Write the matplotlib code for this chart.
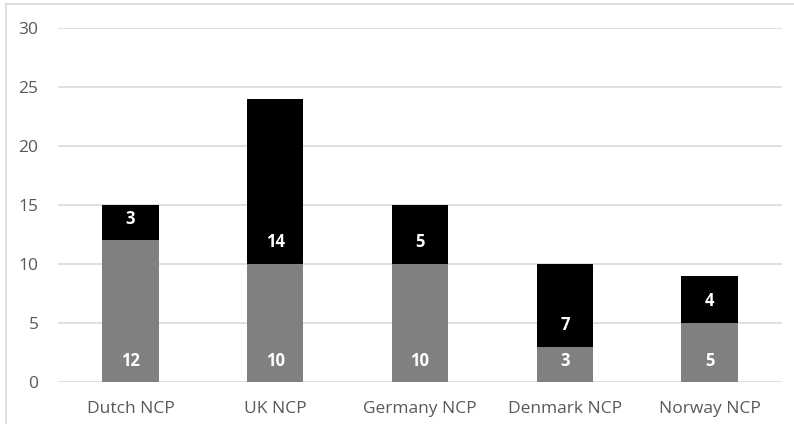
import matplotlib.pyplot as plt
from matplotlib.lines import Line2D
import numpy as np

categories = ["Dutch NCP", "UK NCP", "Germany NCP", "Denmark NCP", "Norway NCP"]
bottom_vals = [12, 10, 10, 3, 5]
top_vals = [3, 14, 5, 7, 4]
y_ticks = [0, 5, 10, 15, 20, 25, 30]

GRAY = "#808080"
BLACK = "#000000"
GRID = "#d9d9d9"
TICK = "#595959"

plt.rcParams["font.family"] = ["Open Sans", "DejaVu Sans"]

W, H = 794, 424
fig = plt.figure(figsize=(W / 100, H / 100), dpi=100)
ax = fig.add_axes([58 / W, 1 - 382 / H, (782 - 58) / W, (382 - 28) / H])

x = np.arange(len(categories))
bw = 0.39
ax.bar(x, bottom_vals, bw, color=GRAY, zorder=3)
ax.bar(x, top_vals, bw, bottom=bottom_vals, color=BLACK, zorder=3)

for xi, b, t in zip(x, bottom_vals, top_vals):
    ax.annotate(str(b), (xi, 0), xytext=(0, 15), textcoords="offset points",
                ha="center", va="center", color="white", fontsize=12,
                fontweight="bold", zorder=4)
    ax.annotate(str(t), (xi, b), xytext=(0, 15.5), textcoords="offset points",
                ha="center", va="center", color="white", fontsize=12,
                fontweight="bold", zorder=4)

ax.set_xlim(-0.5, len(categories) - 0.5)
ax.set_ylim(0, 30)
ax.set_yticks(y_ticks)
ax.set_xticks(x)
ax.set_xticklabels(categories)
ax.tick_params(length=0, labelsize=12.5, colors=TICK)
ax.tick_params(axis="y", pad=14)
ax.tick_params(axis="x", pad=14)
ax.yaxis.grid(True, color=GRID, lw=1.2)
ax.set_axisbelow(True)
for s in ax.spines.values():
    s.set_visible(False)

# outer chart border (top and left visible in the reference)
fig.add_artist(Line2D([6 / W, 1], [1 - 4 / H, 1 - 4 / H], color=GRID, lw=1.2))
fig.add_artist(Line2D([6 / W, 6 / W], [0, 1 - 4 / H], color=GRID, lw=1.2))

fig.savefig("out.png", dpi=100)
